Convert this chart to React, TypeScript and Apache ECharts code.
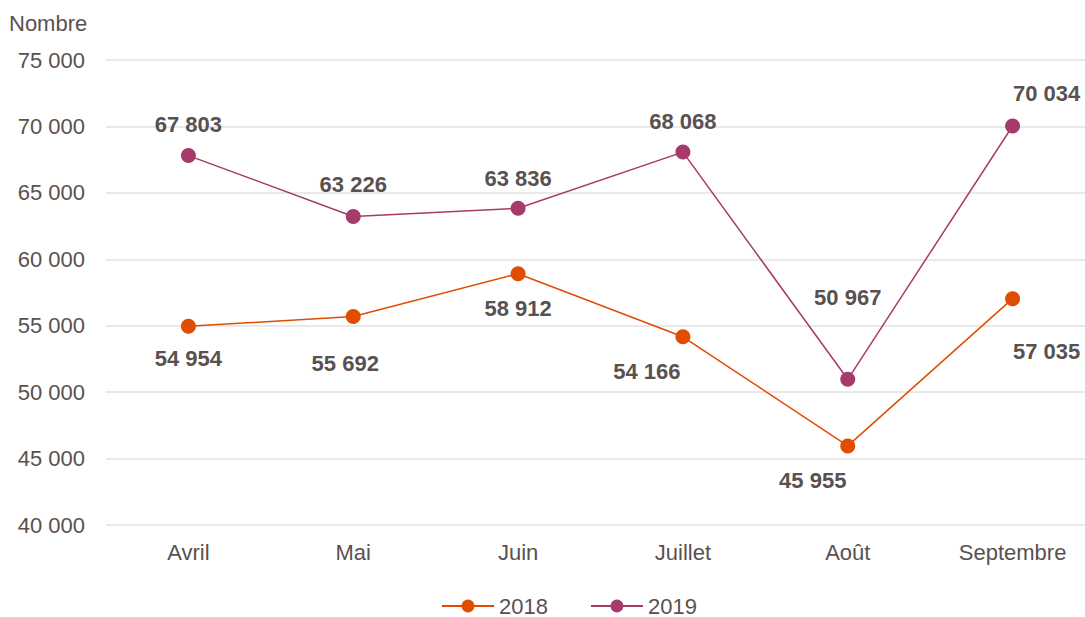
import React, { useEffect, useRef } from "react";
import * as echarts from "echarts";

const categories = ["Avril", "Mai", "Juin", "Juillet", "Août", "Septembre"];
const values2018 = [54954, 55692, 58912, 54166, 45955, 57035];
const values2019 = [67803, 63226, 63836, 68068, 50967, 70034];
const offsets2018 = [[0, 32], [-8, 47], [0, 35], [-36, 35], [-35, 35], [34, 53]];
const offsets2019 = [[0, -31], [0, -32], [0, -30], [0, -31], [0, -82], [34, -32]];

const fmt = (v: number) => String(v).replace(/\B(?=(\d{3})+(?!\d))/g, " ");

const TEXT = "#595150";
const C2018 = "#e04c00";
const C2019 = "#a63a6b";
const FONT = "Liberation Sans, Arial, sans-serif";

export default function App() {
  const ref = useRef<HTMLDivElement>(null);
  useEffect(() => {
    const chart = echarts.init(ref.current!, null, { renderer: "svg" });
    const mk = (vals: number[], offs: number[][]) =>
      vals.map((v, i) => ({ value: v, label: { offset: offs[i] } }));
    const labelCfg = {
      show: true,
      position: "inside",
      color: TEXT,
      fontSize: 22,
      fontWeight: "bold",
      fontFamily: FONT,
      formatter: (p: any) => fmt(p.value),
    };
    chart.setOption({
      animation: false,
      textStyle: { fontFamily: FONT },
      grid: { left: 106, right: 0, top: 60, bottom: 92, containLabel: false },
      graphic: [
        {
          type: "text",
          left: 9,
          top: 12,
          style: { text: "Nombre", fill: TEXT, fontSize: 22, fontFamily: FONT },
        },
      ],
      legend: {
        top: 595,
        left: 441,
        padding: 0,
        itemWidth: 52,
        itemHeight: 16,
        itemGap: 42,
        textStyle: { color: TEXT, fontSize: 22, fontFamily: FONT },
        data: ["2018", "2019"],
      },
      xAxis: {
        type: "category",
        data: categories,
        boundaryGap: true,
        axisLine: { show: false },
        axisTick: { show: false },
        axisLabel: { color: TEXT, fontSize: 22, margin: 16, fontFamily: FONT },
      },
      yAxis: {
        type: "value",
        min: 40000,
        max: 75000,
        interval: 5000,
        axisLine: { show: false },
        axisTick: { show: false },
        axisLabel: {
          color: TEXT,
          fontSize: 22,
          margin: 21,
          fontFamily: FONT,
          formatter: (v: number) => fmt(v),
        },
        splitLine: { lineStyle: { color: "#e5e0e0", width: 1.5 } },
      },
      series: [
        {
          name: "2018",
          type: "line",
          data: mk(values2018, offsets2018),
          symbol: "circle",
          symbolSize: 15,
          itemStyle: { color: C2018 },
          lineStyle: { color: C2018, width: 1.5 },
          label: labelCfg,
        },
        {
          name: "2019",
          type: "line",
          data: mk(values2019, offsets2019),
          symbol: "circle",
          symbolSize: 15,
          itemStyle: { color: C2019 },
          lineStyle: { color: C2019, width: 1.5 },
          label: labelCfg,
        },
      ],
    });
    return () => chart.dispose();
  }, []);
  return (
    <div
      style={{ position: "fixed", left: 0, top: 0, width: 1085, height: 617, overflow: "hidden", background: "#fff" }}
    >
      <div ref={ref} style={{ width: 1095, height: 617 }} />
    </div>
  );
}
